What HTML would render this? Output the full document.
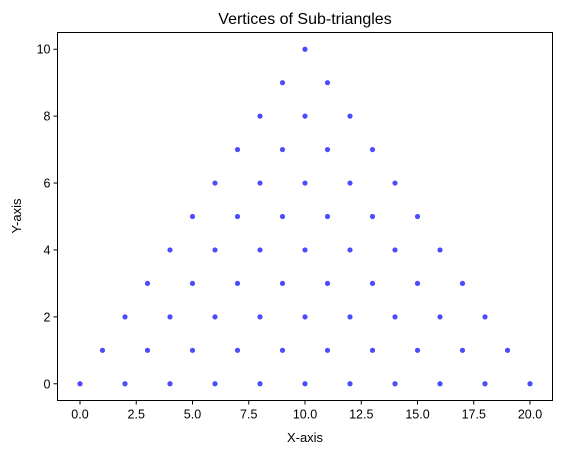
<!DOCTYPE html>
<html><head><meta charset="utf-8"><style>
html,body{margin:0;padding:0;background:#fff;}
svg{display:block;font-family:"Liberation Sans","DejaVu Sans",sans-serif;}
</style></head><body>
<svg id="chart" width="562" height="455" viewBox="0 0 562 455">
<rect width="562" height="455" fill="#fff"/>
<text x="305" y="24" font-size="16" text-anchor="middle" fill="#000">Vertices of Sub-triangles</text>
<g id="plot"></g>
<text x="305" y="442" font-size="13" text-anchor="middle">X-axis</text>
<text x="0" y="0" font-size="13" text-anchor="middle" transform="translate(21,216) rotate(-90)">Y-axis</text>
</svg>
<script>
const xs = [0,2,4,6,8,10,12,14,16,18,20, 1,3,5,7,9,11,13,15,17,19, 2,4,6,8,10,12,14,16,18, 3,5,7,9,11,13,15,17, 4,6,8,10,12,14,16, 5,7,9,11,13,15, 6,8,10,12,14, 7,9,11,13, 8,10,12, 9,11, 10];
const ys = [0,0,0,0,0,0,0,0,0,0,0, 1,1,1,1,1,1,1,1,1,1, 2,2,2,2,2,2,2,2,2, 3,3,3,3,3,3,3,3, 4,4,4,4,4,4,4, 5,5,5,5,5,5, 6,6,6,6,6, 7,7,7,7, 8,8,8, 9,9, 10];
const xTicks = [0,2.5,5,7.5,10,12.5,15,17.5,20];
const xTickLabels = ["0.0","2.5","5.0","7.5","10.0","12.5","15.0","17.5","20.0"];
const yTicks = [0,2,4,6,8,10];
const yTickLabels = ["0","2","4","6","8","10"];

const L=57.5,R=552.5,T=32.5,B=400.5;
const xMin=-1,xMax=21,yMin=-0.5,yMax=10.5;
const sx=v=>L+(v-xMin)/(xMax-xMin)*(R-L);
const sy=v=>B-(v-yMin)/(yMax-yMin)*(B-T);
const NS="http://www.w3.org/2000/svg";
const g=document.getElementById('plot');
function mk(tag,attrs){const e=document.createElementNS(NS,tag);for(const k in attrs)e.setAttribute(k,attrs[k]);g.appendChild(e);return e;}

for(let i=0;i<xs.length;i++){
  const c=mk('circle',{cx:sx(xs[i]),cy:sy(ys[i]),r:2.6,fill:'#0000ff','fill-opacity':0.7});
  
  
}
const frame=mk('rect',{x:L,y:T,width:R-L,height:B-T,fill:'none',stroke:'#000','stroke-width':1});


xTicks.forEach((v,i)=>{
  const x=sx(v);
  const t=mk('line',{x1:x,x2:x,y1:B,y2:B+4,stroke:'#000','stroke-width':1});
  
  
  const l=mk('text',{x:x,y:B+18,'font-size':12.5,'text-anchor':'middle'});
  l.textContent=xTickLabels[i];
  
  
});
yTicks.forEach((v,i)=>{
  const y=sy(v);
  const t=mk('line',{x1:L-4,x2:L,y1:y,y2:y,stroke:'#000','stroke-width':1});
  
  
  const l=mk('text',{x:L-7,y:y+4.5,'font-size':12.5,'text-anchor':'end'});
  l.textContent=yTickLabels[i];
  
  
});
</script>
</body></html>
